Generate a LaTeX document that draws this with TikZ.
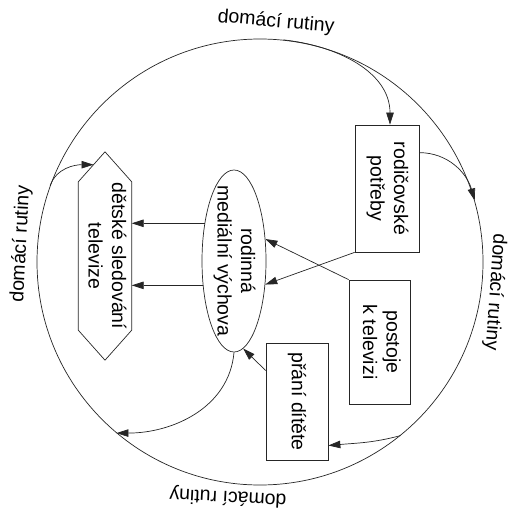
\documentclass[tikz,border=0pt]{standalone}
\usepackage{fontspec}
\setmainfont{Liberation Sans}
\usepackage{graphicx}
\usetikzlibrary{arrows.meta,shapes.geometric,calc}
\begin{document}
\begin{tikzpicture}[x=1bp,y=1bp,
  every node/.style={font=\fontsize{19.5bp}{23.5bp}\selectfont},
  ln/.style={line width=0.7bp, draw=black!85},
  arr/.style={ln, -{Triangle[length=12bp,width=7.5bp]}},
  box/.style={ln, draw, rectangle, inner sep=0pt},
  lbl/.style={inner sep=0pt}
]
\useasboundingbox (0,0) rectangle (512,-517);
% big circle
\node[ln, draw, circle, minimum size=446bp, inner sep=0pt] (circ) at (260,-262) {};
% boxes
\node[box, minimum width=64bp, minimum height=127bp] (rod) at (387,-188.5)
  {\rotatebox{-90}{\begin{tabular}{@{}c@{}}rodičovské\\potřeby\end{tabular}}};
\node[box, minimum width=61bp, minimum height=124bp] (post) at (379.5,-342)
  {\rotatebox{-90}{\begin{tabular}{@{}c@{}}postoje\\k televizi\end{tabular}}};
\node[box, minimum width=62bp, minimum height=117bp] (pr) at (297,-401.5)
  {\rotatebox{-90}{přání dítěte}};
% ellipse
\node[ln, draw, ellipse, minimum width=64bp, minimum height=182bp, inner xsep=-2bp, inner ysep=-12bp] (ell) at (234,-261)
  {\rotatebox{-90}{\begin{tabular}{@{}c@{}}rodinná\\mediální výchova\end{tabular}}};
% hexagon
\node[inner sep=0pt, minimum width=53bp, minimum height=208bp] (hex) at (105,-256)
  {\rotatebox{-90}{\begin{tabular}{@{}c@{}}dětské sledování\\televize\end{tabular}}};
\coordinate (hexul) at ([yshift=-30bp]hex.north west);
\draw[ln] (hex.north) -- ([yshift=-30bp]hex.north east) -- ([yshift=30bp]hex.south east)
  -- (hex.south) -- ([yshift=30bp]hex.south west) -- (hexul) -- cycle;
\coordinate (hexin) at ($(hex.north)!0.43!(hexul)$);
% labels
\node[lbl, rotate=-5] (lt) at (276,-22) {domácí rutiny};
\node[lbl, rotate=-94] (lr) at (495,-292) {domácí rutiny};
\node[lbl, rotate=87] (ll) at (21,-244) {domácí rutiny};
\node[lbl, rotate=177] (lb) at (228,-497) {domácí rutiny};
% connectors
\draw[arr] (circ.84) to[out=-6,in=90] ([xshift=3bp]rod.north);
\draw[arr] ([yshift=-28bp]rod.north east) to[out=0,in=106] (circ.16);
\draw[arr] (circ.-51) to[out=195,in=5] ([yshift=-44bp]pr.east);
\draw[arr] ([yshift=31bp]pr.west) -- (ell.-84);
\draw[arr] (rod.south west) -- (ell.-37);
\draw[arr] (post.north west) -- (ell.35);
\draw[arr] (ell.128) -- (ell.128 -| hex.east);
\draw[arr] (ell.218) -- (ell.218 -| hex.east);
\draw[arr] (ell.south) to[out=-95,in=0] (circ.230);
\draw[arr] (circ.160) to[out=70,in=180] (hexin);
\end{tikzpicture}
\end{document}
